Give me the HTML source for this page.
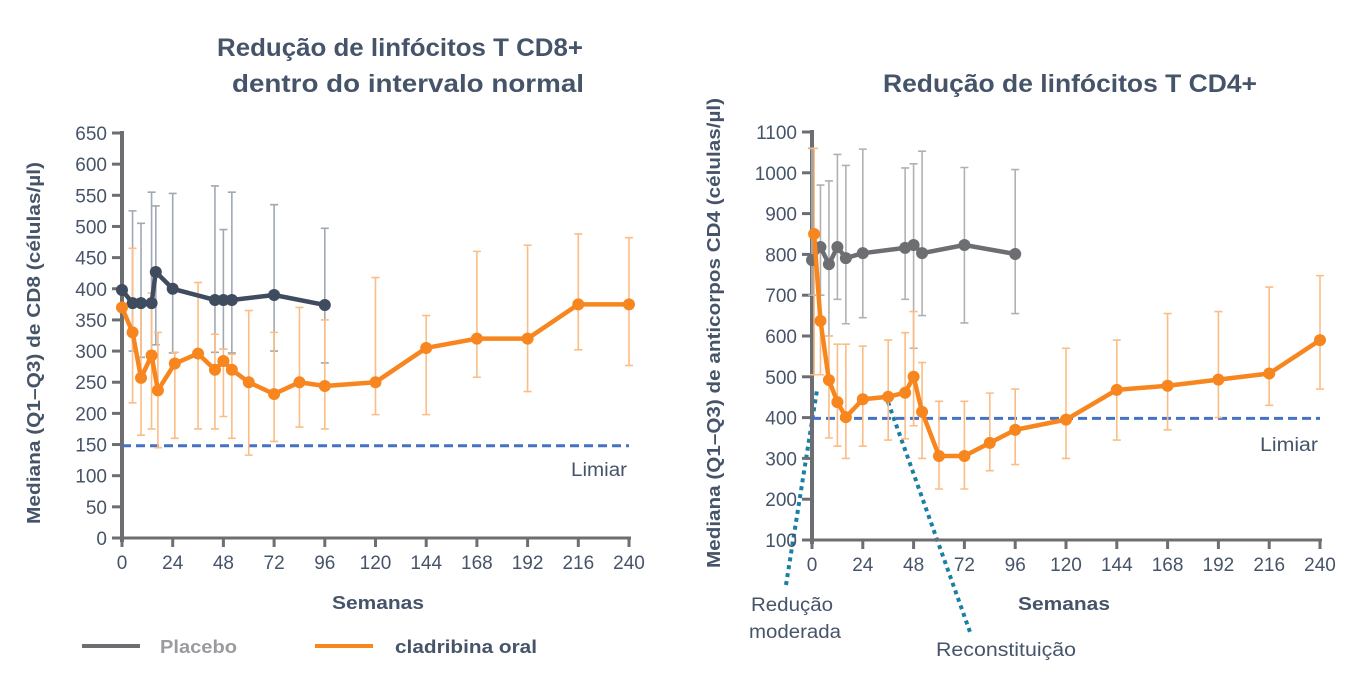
<!DOCTYPE html>
<html><head><meta charset="utf-8"><style>
body{margin:0;background:#fff;width:1348px;height:680px;overflow:hidden}
text{font-family:"Liberation Sans",sans-serif}
</style></head><body>
<svg id="s" width="1348" height="680" xmlns="http://www.w3.org/2000/svg">
<text x="400" y="56" text-anchor="middle" font-size="25" font-weight="bold" fill="#46546a" textLength="366" lengthAdjust="spacingAndGlyphs">Redução de linfócitos T CD8+</text>
<text x="408" y="92" text-anchor="middle" font-size="25" font-weight="bold" fill="#46546a" textLength="352" lengthAdjust="spacingAndGlyphs">dentro do intervalo normal</text>
<text x="1070" y="92" text-anchor="middle" font-size="25" font-weight="bold" fill="#46546a" textLength="374" lengthAdjust="spacingAndGlyphs">Redução de linfócitos T CD4+</text>
<text transform="translate(40,343) rotate(-90)" text-anchor="middle" font-size="18" font-weight="bold" fill="#46546a" textLength="362" lengthAdjust="spacingAndGlyphs">Mediana (Q1–Q3) de CD8 (células/µl)</text>
<text transform="translate(720,333) rotate(-90)" text-anchor="middle" font-size="18" font-weight="bold" fill="#46546a" textLength="470" lengthAdjust="spacingAndGlyphs">Mediana (Q1–Q3) de anticorpos CD4 (células/µl)</text>
<text x="378" y="609" text-anchor="middle" font-size="18" font-weight="bold" fill="#46546a" textLength="92" lengthAdjust="spacingAndGlyphs">Semanas</text>
<text x="1064" y="610" text-anchor="middle" font-size="18" font-weight="bold" fill="#46546a" textLength="92" lengthAdjust="spacingAndGlyphs">Semanas</text>
<line x1="82" y1="646" x2="140" y2="646" stroke="#6d6e71" stroke-width="4"/>
<text x="160" y="653" font-size="18" font-weight="bold" fill="#9a9b9e" textLength="77" lengthAdjust="spacingAndGlyphs">Placebo</text>
<line x1="315" y1="646" x2="373" y2="646" stroke="#f7861e" stroke-width="4"/>
<text x="395" y="653" font-size="18" font-weight="bold" fill="#46546a" textLength="142" lengthAdjust="spacingAndGlyphs">cladribina oral</text>
<text x="627" y="476" text-anchor="end" font-size="19" fill="#46546a" textLength="56" lengthAdjust="spacingAndGlyphs">Limiar</text>
<text x="1318" y="451" text-anchor="end" font-size="19" fill="#46546a" textLength="58" lengthAdjust="spacingAndGlyphs">Limiar</text>
<line x1="786" y1="585" x2="817" y2="390" stroke="#1a7fa5" stroke-width="4" stroke-dasharray="4 4"/>
<line x1="888" y1="402" x2="970" y2="632" stroke="#1a7fa5" stroke-width="4" stroke-dasharray="4 4"/>
<text x="792" y="611" text-anchor="middle" font-size="19" fill="#46546a" textLength="82" lengthAdjust="spacingAndGlyphs">Redução</text>
<text x="795" y="638" text-anchor="middle" font-size="19" fill="#46546a" textLength="92" lengthAdjust="spacingAndGlyphs">moderada</text>
<text x="1006" y="656" text-anchor="middle" font-size="19" fill="#46546a" textLength="140" lengthAdjust="spacingAndGlyphs">Reconstituição</text>
</svg>
<script>
const weeksTicks=[0,24,48,72,96,120,144,168,192,216,240];
const leftYTicks=[0,50,100,150,200,250,300,350,400,450,500,550,600,650];
const rightYTicks=[100,200,300,400,500,600,700,800,900,1000,1100];
const leftThreshold=148, rightThreshold=398;
const lPlWeeks=[0,5,9,14,16,24,44,48,52,72,96];
const lPlVals=[398,377,377,377,427,400,382,382,382,390,374];
const lPlHi=[null,525,505,555,533,553,565,495,555,535,497];
const lPlLo=[null,300,290,300,310,297,298,303,297,300,281];
const lClWeeks=[0,5,9,14,17,25,36,44,48,52,60,72,84,96,120,144,168,192,216,240];
const lClVals=[370,330,257,293,237,280,296,270,284,270,250,231,250,244,250,305,320,320,375,375];
const lClHi=[null,465,380,393,330,298,410,327,303,295,365,330,370,350,418,357,460,470,488,482];
const lClLo=[null,217,165,175,145,160,175,175,195,160,133,155,178,175,198,198,258,235,302,277];
const rPlWeeks=[0,4,8,12,16,24,44,48,52,72,96];
const rPlVals=[786,818,776,818,791,803,816,823,803,823,801];
const rPlHi=[1060,970,980,1045,1018,1058,1012,1022,1053,1013,1008];
const rPlLo=[700,700,600,690,630,645,690,570,650,632,655];
const rClWeeks=[1,4,8,12,16,24,36,44,48,52,60,72,84,96,120,144,168,192,216,240];
const rClVals=[850,637,492,438,401,445,451,461,500,414,306,306,338,370,395,468,478,493,508,590];
const rClHi=[1060,642,600,580,580,575,590,608,660,535,440,440,460,470,570,590,655,660,720,748];
const rClLo=[505,505,350,330,300,330,345,348,380,300,225,225,270,285,300,345,370,400,430,470];
const NS='http://www.w3.org/2000/svg', svg=document.getElementById('s');
function el(t,a){const e=document.createElementNS(NS,t);for(const k in a)e.setAttribute(k,a[k]);svg.appendChild(e);return e;}
function chart(p,x0,x1,yb,yt,vmin,vmax,yTicks,thr,series){
 const X=w=>x0+(w/240)*(x1-x0), Y=v=>yb-(v-vmin)/(vmax-vmin)*(yb-yt);
 let e=el('line',{x1:X(0),y1:yt-2,x2:X(0),y2:yb+4,stroke:'#6d6e71','stroke-width':4});
 
 e=el('line',{x1:X(0)-2,y1:yb,x2:x1+2,y2:yb,stroke:'#6d6e71','stroke-width':3});
 
 yTicks.forEach(v=>{
  e=el('line',{x1:X(0)-10,y1:Y(v),x2:X(0),y2:Y(v),stroke:'#6d6e71','stroke-width':3});
  
  e=el('text',{x:X(0)-15,y:Y(v)+7,'text-anchor':'end','font-size':19,fill:'#46546a'});e.textContent=v;
  
 });
 weeksTicks.forEach(w=>{
  e=el('line',{x1:X(w),y1:yb,x2:X(w),y2:yb+9,stroke:'#6d6e71','stroke-width':3});
  
  e=el('text',{x:X(w),y:yb+31,'text-anchor':'middle','font-size':19,fill:'#46546a'});e.textContent=w;
  
 });
 e=el('line',{x1:X(0),y1:Y(thr),x2:x1,y2:Y(thr),stroke:'#4472c4','stroke-width':3,'stroke-dasharray':'9 5'});
 
 series.forEach(s=>{
  s.w.forEach((w,i)=>{ if(s.hi[i]==null)return;
   e=el('path',{d:`M${X(w)},${Y(s.hi[i])}V${Y(s.lo[i])}M${X(w)-4},${Y(s.hi[i])}h8M${X(w)-4},${Y(s.lo[i])}h8`,stroke:s.ec,'stroke-width':1.6,fill:'none'});
   
  });
 });
 series.forEach(s=>{
  e=el('polyline',{points:s.w.map((w,i)=>X(w)+','+Y(s.v[i])).join(' '),stroke:s.c,'stroke-width':4.5,fill:'none','stroke-linejoin':'round'});
  
  s.w.forEach((w,i)=>{
   e=el('circle',{cx:X(w),cy:Y(s.v[i]),r:6,fill:s.c});
   
  });
 });
}
chart('left',122,629,538,133,0,650,leftYTicks,leftThreshold,[
 {n:'placebo',w:lPlWeeks,v:lPlVals,hi:lPlHi,lo:lPlLo,c:'#3f4b5f',ec:'#a0a8b3'},
 {n:'cladribine',w:lClWeeks,v:lClVals,hi:lClHi,lo:lClLo,c:'#f7861e',ec:'#fbbd85'}]);
chart('right',812,1320,540,132,100,1100,rightYTicks,rightThreshold,[
 {n:'placebo',w:rPlWeeks,v:rPlVals,hi:rPlHi,lo:rPlLo,c:'#6d6e71',ec:'#b0b1b3'},
 {n:'cladribine',w:rClWeeks,v:rClVals,hi:rClHi,lo:rClLo,c:'#f7861e',ec:'#fbbd85'}]);
</script>
</body></html>
